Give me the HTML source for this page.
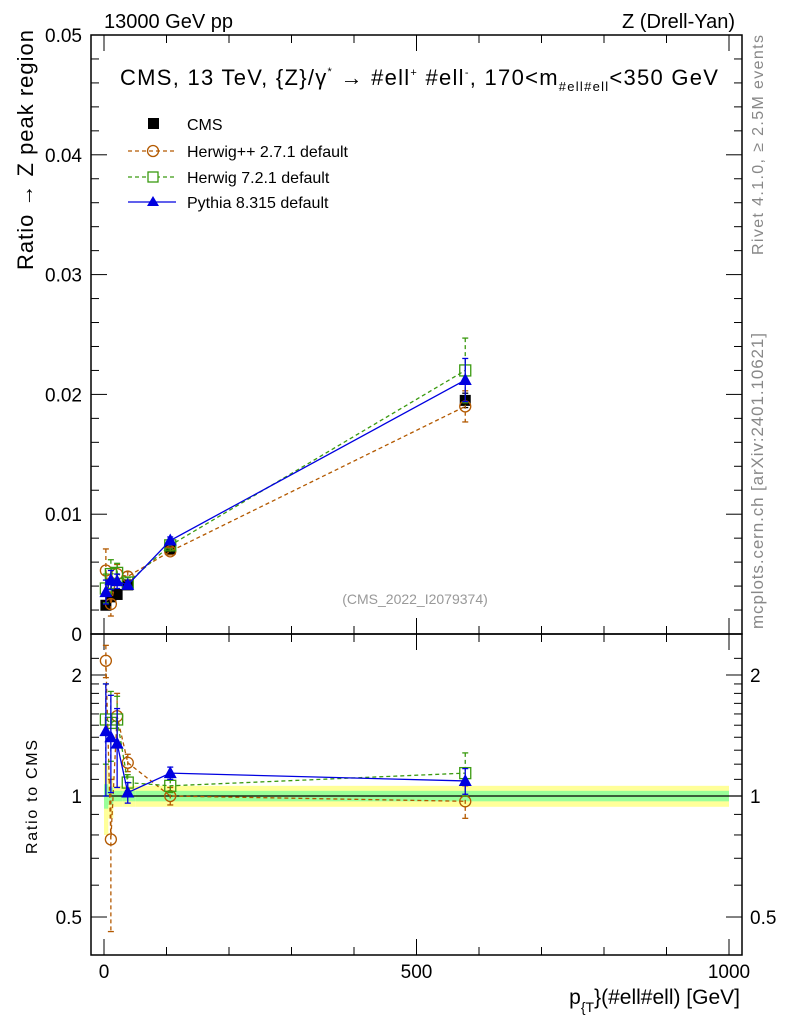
<!DOCTYPE html>
<html><head><meta charset="utf-8"><style>
body{margin:0;background:#fff;}
svg{display:block;font-family:"Liberation Sans",sans-serif;}
</style></head><body>
<svg id="c" width="786" height="1024" viewBox="0 0 786 1024" xmlns="http://www.w3.org/2000/svg">
<rect x="0" y="0" width="786" height="1024" fill="#fff"/>
<g id="bands"></g>
<g id="axes"></g>
<g id="series"></g>
<text x="104" y="28" font-size="20">13000 GeV pp</text>
<text x="735" y="28" font-size="20" text-anchor="end">Z (Drell-Yan)</text>
<text x="120" y="85" font-size="22" textLength="598">CMS, 13 TeV, {Z}/γ<tspan font-size="11" dy="-10">*</tspan><tspan dy="10">  →  #ell</tspan><tspan font-size="11" dy="-9">+</tspan><tspan dy="9"> #ell</tspan><tspan font-size="11" dy="-9">-</tspan><tspan dy="9">, 170&lt;m</tspan><tspan font-size="13" dy="6">#ell#ell</tspan><tspan dy="-6">&lt;350 GeV</tspan></text>
<text x="415" y="604" font-size="14" fill="#999" text-anchor="middle">(CMS_2022_I2079374)</text>
<text transform="translate(33,150) rotate(-90)" font-size="22" text-anchor="middle" textLength="240">Ratio → Z peak region</text>
<text transform="translate(37,797) rotate(-90)" font-size="16" text-anchor="middle" textLength="114">Ratio to CMS</text>
<text x="740" y="1004" font-size="21" text-anchor="end">p<tspan font-size="14" dy="8">{T</tspan><tspan dy="-8">}(#ell#ell) [GeV]</tspan></text>
<text transform="translate(763,145) rotate(-90)" font-size="16" fill="#888" text-anchor="middle" textLength="220">Rivet 4.1.0, ≥ 2.5M events</text>
<text transform="translate(763,481) rotate(-90)" font-size="17" fill="#888" text-anchor="middle" textLength="296">mcplots.cern.ch [arXiv:2401.10621]</text>
<g id="legend">
<rect x="148" y="118" width="11" height="11" fill="#000"/>
<text x="187" y="130" font-size="16">CMS</text>
<line x1="128" y1="151" x2="176" y2="151" stroke="#b35900" stroke-dasharray="4,3" stroke-width="1.3"/>
<circle cx="153" cy="151" r="5.5" fill="none" stroke="#b35900" stroke-width="1.3"/>
<text x="187" y="157" font-size="16">Herwig++ 2.7.1 default</text>
<line x1="128" y1="177" x2="176" y2="177" stroke="#3a9a10" stroke-dasharray="4,3" stroke-width="1.3"/>
<rect x="148" y="172" width="10" height="10" fill="#fff" stroke="#3a9a10" stroke-width="1.3"/>
<text x="187" y="183" font-size="16">Herwig 7.2.1 default</text>
<line x1="128" y1="202" x2="176" y2="202" stroke="#0000e0" stroke-width="1.3"/>
<polygon points="153,196 159,206 147,206" fill="#0000e0"/>
<text x="187" y="208" font-size="16">Pythia 8.315 default</text>
</g>
</svg>
<script>
const xs = [3, 11, 21, 38, 106, 578];
const cms = [0.0024, 0.0031, 0.0033, 0.0041, 0.0071, 0.0195];
const cmsErr = [0.0003, 0.0003, 0.0003, 0.0003, 0.0004, 0.0006];
const hpp = [0.0053, 0.0025, 0.0050, 0.0048, 0.0069, 0.0190];
const hppErr = [0.0018, 0.0010, 0.0008, 0.0004, 0.0003, 0.0013];
const h7 = [0.0038, 0.0050, 0.0051, 0.0043, 0.0074, 0.0220];
const h7Err = [0.0012, 0.0012, 0.0008, 0.0004, 0.0003, 0.0027];
const py = [0.0035, 0.0045, 0.0044, 0.0041, 0.0078, 0.0212];
const pyErr = [0.0010, 0.0008, 0.0006, 0.0003, 0.0003, 0.0018];
const rHpp = [2.17, 0.78, 1.58, 1.21, 1.0, 0.97];
const rHppErr = [0.2, 0.32, 0.22, 0.06, 0.05, 0.09];
const rH7 = [1.55, 1.52, 1.55, 1.08, 1.06, 1.14];
const rH7Err = [0.35, 0.3, 0.22, 0.05, 0.04, 0.14];
const rPy = [1.45, 1.40, 1.35, 1.02, 1.14, 1.09];
const rPyErr = [0.45, 0.38, 0.3, 0.06, 0.04, 0.08];
const binEdges = [0, 7, 15, 30, 50, 300, 1000];
const bandY = [0.2, 0.12, 0.06, 0.06, 0.06, 0.06];
const bandG = [0.07, 0.05, 0.03, 0.03, 0.03, 0.03];
const yTicks = [0, 0.01, 0.02, 0.03, 0.04, 0.05];
const yTickLabels = ["0", "0.01", "0.02", "0.03", "0.04", "0.05"];
const rTicks = [0.5, 1, 2];
const rTickLabels = ["0.5", "1", "2"];
const xTicks = [0, 500, 1000];
const xTickLabels = ["0", "500", "1000"];

const NS = "http://www.w3.org/2000/svg";
const L = 91, R = 742, T = 35, MB = 634, RB = 955;
const X = v => 104 + v * 0.625;
const Y = v => 634 - v * 11980;
const RY = v => 796 - 402 * Math.log10(v);
function mk(tag, attrs, parent) {
  const e = document.createElementNS(NS, tag);
  for (const k in attrs) e.setAttribute(k, attrs[k]);
  document.getElementById(parent).appendChild(e);
  return e;
}
for (let i = 0; i < xs.length; i++) {
  const a = X(binEdges[i]), b = X(binEdges[i + 1]);
  const y1 = mk('rect', {x: a, y: RY(1 + bandY[i]), width: b - a, height: RY(1 - bandY[i]) - RY(1 + bandY[i]), fill: '#ffff99'}, 'bands');
  
  
  const g1 = mk('rect', {x: a, y: RY(1 + bandG[i]), width: b - a, height: RY(1 - bandG[i]) - RY(1 + bandG[i]), fill: '#99ff99'}, 'bands');
  
  
}
mk('line', {x1: L, x2: R, y1: RY(1), y2: RY(1), stroke: '#000', 'stroke-width': 1.2}, 'bands');
const f1 = mk('rect', {x: L, y: T, width: R - L, height: MB - T, fill: 'none', stroke: '#000', 'stroke-width': 1.5}, 'axes');


const f2 = mk('rect', {x: L, y: MB, width: R - L, height: RB - MB, fill: 'none', stroke: '#000', 'stroke-width': 1.5}, 'axes');


for (let v = 0; v <= 0.05001; v += 0.002) {
  const major = Math.abs(v / 0.01 - Math.round(v / 0.01)) < 1e-6;
  const len = major ? 16 : 8;
  mk('line', {x1: L, x2: L + len, y1: Y(v), y2: Y(v), stroke: '#000'}, 'axes');
  mk('line', {x1: R, x2: R - len, y1: Y(v), y2: Y(v), stroke: '#000'}, 'axes');
}
yTicks.forEach((v, i) => {
  const t = mk('text', {x: 82, y: Y(v) + 7, 'font-size': 19, 'text-anchor': 'end'}, 'axes');
  t.textContent = yTickLabels[i];
  
  
});
const rMinor = [0.5,0.6,0.7,0.8,0.9,1,1.1,1.2,1.3,1.4,1.5,1.6,1.7,1.8,1.9,2,2.2];
rMinor.forEach(v => {
  const major = rTicks.includes(v);
  const len = major ? 16 : 8;
  mk('line', {x1: L, x2: L + len, y1: RY(v), y2: RY(v), stroke: '#000'}, 'axes');
  mk('line', {x1: R, x2: R - len, y1: RY(v), y2: RY(v), stroke: '#000'}, 'axes');
});
rTicks.forEach((v, i) => {
  const t = mk('text', {x: 82, y: RY(v) + 7, 'font-size': 19, 'text-anchor': 'end'}, 'axes');
  t.textContent = rTickLabels[i];
  
  
  const t2 = mk('text', {x: 750, y: RY(v) + 7, 'font-size': 19}, 'axes');
  t2.textContent = rTickLabels[i];
  
  
});
for (let v = 0; v <= 1000; v += 100) {
  const major = v % 500 === 0;
  const len = major ? 16 : 8;
  [MB, RB].forEach(b => mk('line', {x1: X(v), x2: X(v), y1: b, y2: b - len, stroke: '#000'}, 'axes'));
  [T, MB].forEach(b => mk('line', {x1: X(v), x2: X(v), y1: b, y2: b + len, stroke: '#000'}, 'axes'));
}
xTicks.forEach((v, i) => {
  const t = mk('text', {x: X(v), y: 978, 'font-size': 19, 'text-anchor': 'middle'}, 'axes');
  t.textContent = xTickLabels[i];
  
  
});
function series(vals, errs, yf, color, dash, marker, name, drawLine) {
  if (drawLine) {
    const pts = xs.map((x, i) => X(x) + ',' + yf(vals[i])).join(' ');
    const pl = mk('polyline', {points: pts, fill: 'none', stroke: color, 'stroke-width': 1.3, 'stroke-dasharray': dash}, 'series');
    
    
  }
  xs.forEach((x, i) => {
    const cx = X(x), cy = yf(vals[i]);
    const y1 = yf(vals[i] + errs[i]), y2 = yf(Math.max(vals[i] - errs[i], 1e-4));
    mk('line', {x1: cx, x2: cx, y1: y1, y2: y2, stroke: color, 'stroke-width': 1.3, 'stroke-dasharray': dash}, 'series');
    mk('line', {x1: cx - 3, x2: cx + 3, y1: y1, y2: y1, stroke: color, 'stroke-width': 1.3}, 'series');
    mk('line', {x1: cx - 3, x2: cx + 3, y1: y2, y2: y2, stroke: color, 'stroke-width': 1.3}, 'series');
    let m;
    if (marker === 'circle') m = mk('circle', {cx: cx, cy: cy, r: 5.5, fill: 'none', stroke: color, 'stroke-width': 1.3}, 'series');
    else if (marker === 'square') m = mk('rect', {x: cx - 5.5, y: cy - 5.5, width: 11, height: 11, fill: 'none', stroke: color, 'stroke-width': 1.3}, 'series');
    else if (marker === 'tri') m = mk('polygon', {points: `${cx},${cy - 7} ${cx + 6.5},${cy + 5} ${cx - 6.5},${cy + 5}`, fill: color}, 'series');
    else m = mk('rect', {x: cx - 5.5, y: cy - 5.5, width: 11, height: 11, fill: color}, 'series');
    
    
  });
}
series(cms, cmsErr, Y, '#000', 'none', 'fsq', 'cms', false);
series(hpp, hppErr, Y, '#b35900', '4,3', 'circle', 'herwigpp', true);
series(h7, h7Err, Y, '#3a9a10', '4,3', 'square', 'herwig7', true);
series(py, pyErr, Y, '#0000e0', 'none', 'tri', 'pythia', true);
series(rHpp, rHppErr, RY, '#b35900', '4,3', 'circle', 'ratio-herwigpp', true);
series(rH7, rH7Err, RY, '#3a9a10', '4,3', 'square', 'ratio-herwig7', true);
series(rPy, rPyErr, RY, '#0000e0', 'none', 'tri', 'ratio-pythia', true);
</script>
</body></html>
